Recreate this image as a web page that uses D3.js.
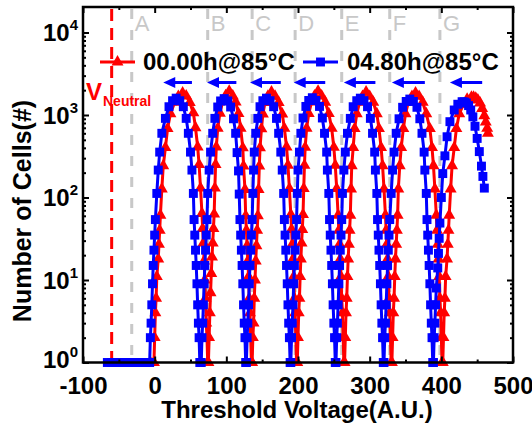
<!DOCTYPE html>
<html><head><meta charset="utf-8">
<script src="https://cdn.jsdelivr.net/npm/d3@7"></script>
<style>body{margin:0;background:#fff}svg{display:block}text{font-family:"Liberation Sans",Arial,sans-serif}</style>
</head><body><svg id="c" width="532" height="429"></svg>
<script>
const xTicks = [-100,0,100,200,300,400,500];
const xMinorTicks = [-50,50,150,250,350,450];
const yTicks = [1,10,100,1000,10000];
const yExponents = ["0","1","2","3","4"];
const seriesNames = ["00.00h@85\u00B0C","04.80h@85\u00B0C"];
const gateLabels = ["A","B","C","D","E","F","G"];
const gateVoltages = [-32,74,136,196,261,328,398];
const vNeutral = -60;
const arrowFrom = [52,114,176,238,308,377,457];
const arrowTo = [12,73,133,194,264,331,412];

// 00.00h@85C (red triangles): [voltage, cells]
const cells0h = [
[-6,1],
[-1,1],[0,2],[1,4],[2,6],[3,11],[5,18],[6,27],[7,40],[8,61],[10,127],[12,243],[15,403],[18,684],[22,1035],[28,1430],[33,1680],[39,1850],
[44,1700],[49,1420],[54,1060],[57,700],[60,410],[62,250],[64,130],[66,64],[67,42],[68,28],[69,17],[70,10],[71,6],[72,3],[73,2],[74,1],
[75,1],[76,2],[77,4],[78,7],[79,12],[80,19],[81,28],[82,42],[83,63],[84,130],[85,250],[86,410],[88,690],[91,1050],[95,1450],[99,1720],[104,1950],
[109,1700],[113,1440],[117,1040],[120,690],[123,400],[124,240],[126,125],[127,60],[128,40],[129,26],[130,17],[131,11],[132,6],[133,4],[134,2],[135,1],
[136,1],[137,2],[138,3],[139,6],[140,10],[141,17],[142,26],[143,40],[144,60],[145,125],[146,240],[147,400],[149,680],[151,1030],[154,1420],[158,1690],[163,1900],
[168,1690],[173,1420],[178,1030],[181,690],[184,410],[186,245],[188,128],[190,62],[191,41],[192,27],[193,18],[194,11],[195,6],[196,4],[197,2],[198,1],
[199,1],[200,2],[201,4],[202,6],[203,11],[204,18],[205,28],[206,41],[207,62],[208,128],[209,245],[210,405],[212,690],[215,1040],[219,1440],[223,1700],[228,1950],
[233,1700],[238,1430],[243,1040],[247,690],[250,405],[252,245],[254,128],[256,61],[257,40],[258,27],[259,18],[260,11],[261,6],[262,4],[263,2],[264,1],
[265,1],[266,2],[267,4],[268,6],[269,11],[270,18],[271,27],[272,40],[273,61],[274,127],[275,243],[277,403],[279,684],[282,1035],[286,1430],[290,1680],[295,1900],
[300,1680],[305,1430],[310,1035],[313,684],[316,403],[318,243],[320,127],[322,61],[323,40],[324,27],[325,18],[326,11],[327,6],[328,4],[329,2],[330,1],
[331,1],[332,2],[333,4],[334,6],[335,11],[336,18],[337,27],[338,40],[339,61],[340,127],[342,243],[344,403],[347,684],[350,1035],[354,1430],[359,1680],[364,1850],
[369,1680],[374,1430],[379,1035],[384,684],[387,403],[389,243],[391,127],[393,61],[394,40],[395,27],[396,18],[397,11],[398,6],[399,4],[400,2],[401,1],
[402,1],[403,2],[404,4],[405,6],[406,11],[408,18],[409,27],[410,40],[411,61],[413,127],[415,243],[418,403],[421,684],[425,1035],[431,1350],[436,1560],[442,1650],
[445,1640],[448,1600],[451,1520],[454,1400],[457,1200],[460,980],[462,820],[464,690],[465,600]
];

// 04.80h@85C (blue squares): [voltage, cells]
const cells4p8h = [
[-66,1],[-60,1],[-54,1],[-48,1],[-42,1],[-36,1],[-30,1],[-24,1],[-18,1],[-12,1],
[-7,1],[-6,2],[-5,3],[-4,5],[-3,9],[-2,15],[-1,23],[0,35],[1,54],[3,112],[5,215],[7,355],[10,600],[15,910],[20,1260],[25,1490],[30,1600],
[35,1490],[40,1260],[44,910],[47,600],[50,355],[52,215],[54,112],[55,54],[56,35],[57,23],[58,15],[59,9],[60,5],[61,3],[62,2],[63,1],
[65,1],[66,2],[67,3],[68,5],[69,9],[70,15],[71,23],[72,35],[73,54],[74,112],[76,215],[78,355],[81,600],[84,910],[88,1250],[92,1480],[97,1580],
[102,1480],[106,1250],[110,900],[113,600],[115,350],[117,210],[118,110],[119,54],[120,35],[121,23],[122,15],[123,9],[124,5],[125,3],[126,2],[127,1],
[128,1],[129,2],[130,3],[131,5],[132,9],[133,15],[134,23],[135,35],[136,54],[137,112],[138,215],[139,355],[141,600],[144,910],[147,1260],[151,1490],[156,1600],
[161,1490],[166,1260],[170,910],[173,600],[176,355],[178,215],[180,112],[181,54],[182,35],[183,23],[184,15],[185,9],[186,5],[187,3],[188,2],[189,1],
[190,1],[191,2],[192,3],[193,5],[194,9],[195,15],[196,23],[197,35],[198,54],[199,112],[200,215],[202,355],[204,600],[207,920],[211,1270],[215,1500],[220,1620],
[225,1500],[230,1270],[234,920],[237,600],[240,355],[241,215],[243,112],[244,54],[245,35],[246,23],[247,15],[248,9],[249,5],[250,3],[251,2],[252,1],
[253,1],[254,2],[255,3],[256,5],[257,9],[258,15],[259,23],[260,35],[261,54],[262,112],[264,215],[266,355],[269,600],[273,910],[277,1260],[282,1490],[287,1600],
[292,1490],[297,1260],[301,910],[304,600],[307,355],[308,215],[310,112],[311,54],[312,35],[313,23],[314,15],[315,9],[316,5],[317,3],[318,2],[319,1],
[320,1],[321,2],[322,3],[323,5],[324,9],[325,15],[326,23],[327,35],[328,54],[330,112],[332,215],[334,355],[337,600],[341,900],[346,1240],[351,1460],[356,1560],
[361,1460],[366,1240],[370,900],[373,600],[376,355],[377,215],[379,112],[380,54],[381,35],[382,23],[383,15],[384,9],[385,5],[386,3],[387,2],[388,1],
[389,1],[390,2],[391,3],[392,5],[393,8],[395,14],[396,21],[397,32],[398,49],[400,100],[402,195],[405,320],[408,545],[412,830],[418,1150],[423,1350],[429,1450],
[432,1440],[435,1400],[438,1300],[441,1150],[444,950],[447,730],[450,520],[453,360],[456,240],[458,180],[460,130]
];

const RED = "#ff0000", BLUE = "#0000ff", GREY = "#c8c8c8";
const L = 83, R = 513, T = 7, B = 362.5;
const svg = d3.select("#c");
const x = d3.scaleLinear().domain([-100,500]).range([L,R]);
const y = d3.scaleLog().domain([1,1e4]).range([B,32.5]);

// gate reference lines
const gates = svg.append("g");
gateVoltages.forEach((v,i)=>{
  gates.append("line").attr("x1",x(v)).attr("x2",x(v)).attr("y1",T+2).attr("y2",B)
    .attr("stroke",GREY).attr("stroke-width",3).attr("stroke-dasharray","10,11");
  gates.append("text").attr("x",x(v)+3).attr("y",31).attr("font-size",22)
    .attr("fill",GREY).text(gateLabels[i]);
});
svg.append("line").attr("x1",x(vNeutral)).attr("x2",x(vNeutral)).attr("y1",T+2).attr("y2",B)
  .attr("stroke",RED).attr("stroke-width",3).attr("stroke-dasharray","12,7");

// data
const line = d3.line().x(d=>x(d[0])).y(d=>y(d[1]));
const tri = d3.symbol().type(d3.symbolTriangle).size(62);
const sq = d3.symbol().type(d3.symbolSquare).size(80);
function drawSeries(data,color,sym){
  const g = svg.append("g");
  g.append("path").datum(data).attr("d",line).attr("fill","none").attr("stroke",color).attr("stroke-width",3);
  g.selectAll("path.m").data(data).join("path").attr("class","m")
    .attr("d",sym).attr("fill",color)
    .attr("transform",d=>`translate(${x(d[0])},${y(d[1])})`);
}
drawSeries(cells0h,RED,tri);
drawSeries(cells4p8h,BLUE,sq);

// arrows
arrowFrom.forEach((v,i)=>{
  const hx = x(arrowTo[i]), tx = x(v), ay = 82.5;
  svg.append("line").attr("x1",hx+8).attr("x2",tx).attr("y1",ay).attr("y2",ay)
    .attr("stroke",BLUE).attr("stroke-width",3);
  svg.append("path").attr("d",`M${hx},${ay}L${hx+12},${ay-5.5}L${hx+12},${ay+5.5}Z`).attr("fill",BLUE);
});

// axes
const fmtNone = ()=>"";
const fmtX = d=>String(d);
const gxb = svg.append("g").attr("transform",`translate(0,${B})`)
  .call(d3.axisBottom(x).tickValues(xTicks).tickSize(-6).tickPadding(14).tickFormat(fmtX));
svg.append("g").attr("transform",`translate(0,${B})`)
  .call(d3.axisBottom(x).tickValues(xMinorTicks).tickSize(-3).tickFormat(fmtNone));
svg.append("g").attr("transform",`translate(0,${T})`)
  .call(d3.axisTop(x).tickValues(xTicks).tickSize(-6).tickFormat(fmtNone));
svg.append("g").attr("transform",`translate(0,${T})`)
  .call(d3.axisTop(x).tickValues(xMinorTicks).tickSize(-3).tickFormat(fmtNone));
const yMinor = [];
[1,10,100,1000,10000].forEach(dec=>{for(let k=2;k<=9;k++){if(dec*k<20000) yMinor.push(dec*k);}});
svg.append("g").attr("transform",`translate(${L},0)`)
  .call(d3.axisLeft(y).tickValues(yTicks).tickSize(-6).tickFormat(fmtNone));
svg.append("g").attr("transform",`translate(${L},0)`)
  .call(d3.axisLeft(y).tickValues(yMinor).tickSize(-3).tickFormat(fmtNone));
svg.append("g").attr("transform",`translate(${R},0)`)
  .call(d3.axisRight(y).tickValues(yTicks).tickSize(-6).tickFormat(fmtNone));
svg.append("g").attr("transform",`translate(${R},0)`)
  .call(d3.axisRight(y).tickValues(yMinor).tickSize(-3).tickFormat(fmtNone));
svg.selectAll(".domain").remove();
svg.selectAll(".tick line").attr("stroke","#000").attr("stroke-width",2);
gxb.selectAll("text").attr("font-size",24).attr("font-weight","bold").attr("fill","#000")
  .attr("font-family","'Liberation Sans',Arial,sans-serif");
svg.append("rect").attr("x",L).attr("y",T).attr("width",R-L).attr("height",B-T)
  .attr("fill","none").attr("stroke","#000").attr("stroke-width",2.5);

// y tick labels 10^n
yTicks.forEach((v,i)=>{
  const t = svg.append("text").attr("x",43).attr("y",y(v)+(i===0?5:8.5)).attr("font-size",24).attr("font-weight","bold");
  t.append("tspan").text("10");
  t.append("tspan").attr("font-size",15).attr("dy",-11).text(yExponents[i]);
});

// axis titles
svg.append("text").attr("x",297).attr("y",418).attr("text-anchor","middle")
  .attr("font-size",24).attr("font-weight","bold").text("Threshold Voltage(A.U.)");
svg.append("text").attr("transform","translate(31,211) rotate(-90)").attr("text-anchor","middle")
  .attr("font-size",25).attr("font-weight","bold").text("Number of Cells(#)");

// V_Neutral label
const vn = svg.append("text").attr("x",86).attr("y",100).attr("fill",RED).attr("font-weight","bold");
vn.append("tspan").attr("font-size",24).text("V");
vn.append("tspan").attr("font-size",14).attr("x",103).attr("y",106).text("Neutral");

// legend
const leg = [{x1:100,c:RED,s:tri,tx:143},{x1:303,c:BLUE,s:sq,tx:347}];
leg.forEach((d,i)=>{
  svg.append("line").attr("x1",d.x1).attr("x2",d.x1+35).attr("y1",62).attr("y2",62).attr("stroke",d.c).attr("stroke-width",3);
  svg.append("path").attr("d",d.s).attr("fill",d.c).attr("transform",`translate(${d.x1+17.5},62)`);
  svg.append("text").attr("x",d.tx).attr("y",69.5).attr("font-size",24).attr("font-weight","bold").text(seriesNames[i]);
});
</script></body></html>
